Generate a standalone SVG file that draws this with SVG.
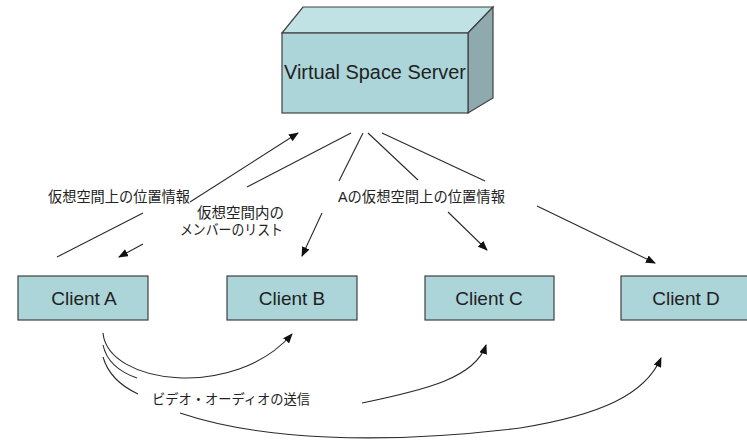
<svg xmlns="http://www.w3.org/2000/svg" width="747" height="441" viewBox="0 0 747 441">
  <defs>
    <marker id="arrow" markerUnits="userSpaceOnUse" markerWidth="10" markerHeight="8" viewBox="0 0 10 8" refX="9" refY="4" orient="auto">
      <path d="M0,0 L10,4 L0,8 Z" fill="#111"/>
    </marker>
    <style>
      .client { fill: #abd5d9; stroke: #404040; stroke-width: 1.2; }
      .lbl { font-family: "Liberation Sans", "Noto Sans CJK JP", sans-serif; fill: #222; }
      .name { font-size: 19px; text-anchor: middle; }
      .note { font-size: 14.5px; }
      .conn { fill: none; stroke: #2a2a2a; stroke-width: 1.1; }
      .tip { marker-end: url(#arrow); }
    </style>
  </defs>
  <rect width="747" height="441" fill="#ffffff"/>

  <!-- server drawn as a 3D box -->
  <g id="server">
    <polygon points="282,33 303,7 493,7 468,33" fill="#c0e2e5" stroke="#404040" stroke-width="1.2"/>
    <polygon points="468,33 493,7 493,98 468,113" fill="#8eaaae" stroke="#404040" stroke-width="1.2"/>
    <rect x="282" y="33" width="186" height="80" fill="#abd5d9" stroke="#404040" stroke-width="1.2"/>
    <text class="lbl" x="375" y="79" font-size="20" text-anchor="middle" textLength="182" lengthAdjust="spacingAndGlyphs">Virtual Space Server</text>
  </g>

  <g id="client-a">
    <rect class="client" x="18" y="276" width="130" height="44"/>
    <text class="lbl name" x="84" y="305">Client A</text>
  </g>
  <g id="client-b">
    <rect class="client" x="227" y="276" width="130" height="44"/>
    <text class="lbl name" x="292" y="305">Client B</text>
  </g>
  <g id="client-c">
    <rect class="client" x="425" y="276" width="129" height="44"/>
    <text class="lbl name" x="489" y="305">Client C</text>
  </g>
  <g id="client-d">
    <rect class="client" x="621" y="276" width="130" height="44"/>
    <text class="lbl name" x="686" y="305">Client D</text>
  </g>

  <g id="connectors">
    <!-- A reports its position to the server -->
    <path class="conn" d="M57,257 L143,213"/>
    <path class="conn tip" d="M190,202 L298,133"/>
    <!-- server returns the member list to A -->
    <path class="conn" d="M351,133 L247,187"/>
    <path class="conn tip" d="M143,244 L119,257"/>
    <!-- server forwards A's position to B, C, D -->
    <path class="conn" d="M363,133 L339,181"/>
    <path class="conn tip" d="M322,213 L302,256"/>
    <path class="conn" d="M368,133 L418,180"/>
    <path class="conn tip" d="M448,212 L487,250"/>
    <path class="conn" d="M382,133 L485,181"/>
    <path class="conn tip" d="M537,206 L655,263"/>

    <!-- video / audio streams from A -->
    <path class="conn tip" d="M103,333 C108,385 235,400 292,334"/>
    <path class="conn" d="M103,345 Q108,368 137,378"/>
    <path class="conn tip" d="M362,403 C425,390 475,378 486,345"/>
    <path class="conn" d="M103,357 Q110,381 138,394"/>
    <path class="conn" d="M180,413 C260,440 380,445 520,428"/>
    <path class="conn tip" d="M520,428 C600,415 645,395 661,358"/>
  </g>

  <g id="labels">
    <text class="lbl note" x="48" y="202" textLength="142" lengthAdjust="spacingAndGlyphs">仮想空間上の位置情報</text>
    <text class="lbl note" x="197" y="218">仮想空間内の</text>
    <text class="lbl note" x="180" y="235" textLength="103" lengthAdjust="spacingAndGlyphs">メンバーのリスト</text>
    <text class="lbl note" x="338" y="202" textLength="167" lengthAdjust="spacingAndGlyphs">Aの仮想空間上の位置情報</text>
    <text class="lbl" x="152" y="404" font-size="13.5" textLength="158" lengthAdjust="spacingAndGlyphs">ビデオ・オーディオの送信</text>
  </g>
</svg>
